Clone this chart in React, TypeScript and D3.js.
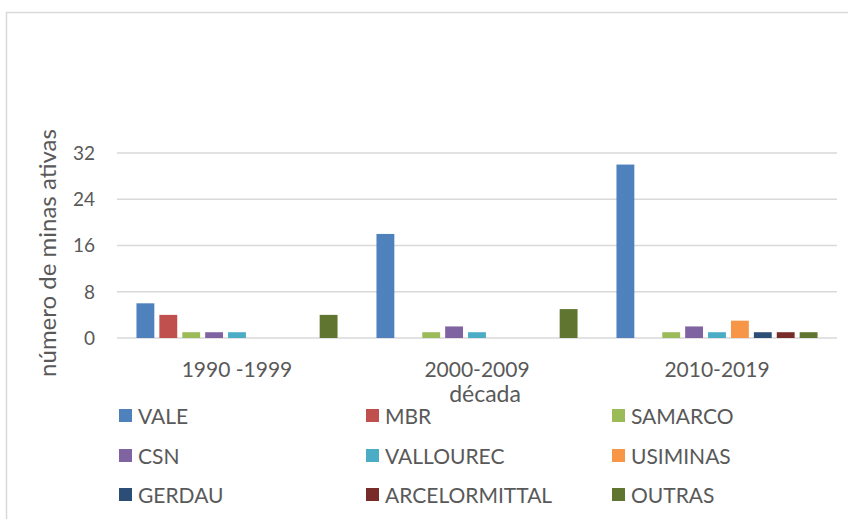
import * as d3 from 'd3';

const DECADES = ['1990 -1999', '2000-2009', '2010-2019'];
const COMPANIES = ['VALE', 'MBR', 'SAMARCO', 'CSN', 'VALLOUREC', 'USIMINAS', 'GERDAU', 'ARCELORMITTAL', 'OUTRAS'];
const COLORS = ['#4f81bd', '#c0504d', '#9bbb59', '#8064a2', '#4bacc6', '#f79646', '#2c4d75', '#772c2a', '#5f7530'];

// one array per company, values per decade
const VALE = [6, 18, 30];
const MBR = [4, 0, 0];
const SAMARCO = [1, 1, 1];
const CSN = [1, 2, 2];
const VALLOUREC = [1, 1, 1];
const USIMINAS = [0, 0, 3];
const GERDAU = [0, 0, 1];
const ARCELORMITTAL = [0, 0, 1];
const OUTRAS = [4, 5, 1];
const SERIES = [VALE, MBR, SAMARCO, CSN, VALLOUREC, USIMINAS, GERDAU, ARCELORMITTAL, OUTRAS];

const Y_TICKS = [0, 8, 16, 24, 32];

const W = 848;
const H = 519;
const FONT = 'Lato, "Open Sans", sans-serif';
const TEXT = '#595959';
const GRID = '#d9d9d9';

export default function App() {
  const x0 = d3.scaleBand<string>().domain(DECADES).range([117, 837]);
  const x1 = d3.scaleBand<string>().domain(COMPANIES).range([0, x0.bandwidth()])
    .paddingInner(0.22).paddingOuter(0.85);
  const y = d3.scaleLinear().domain([0, 32]).range([338, 153]);

  const legendCols = [119, 366, 612];
  const legendRows = [409, 449, 488];

  return (
    <div style={{ position: 'absolute', left: 0, top: 0 }}>
      <svg width={W} height={H} style={{ display: 'block', background: '#fff' }} fontFamily={FONT}>
        {/* chart area border */}
        <rect x={6.5} y={12.5} width={W + 10} height={H + 10} fill="#fff" stroke={GRID} strokeWidth={1.5} />

        {/* grid lines */}
        {Y_TICKS.map(t => (
          <line key={t} x1={117} x2={837} y1={y(t)} y2={y(t)} stroke={GRID} strokeWidth={1.5} />
        ))}

        {/* y tick labels */}
        {Y_TICKS.map(t => (
          <text key={t} x={95} y={y(t)} dy="0.36em" textAnchor="end" fontSize={19} fill={TEXT}>{t}</text>
        ))}

        {/* bars */}
        {DECADES.map((dec, di) => (
          <g key={dec} transform={`translate(${x0(dec)},0)`}>
            {COMPANIES.map((c, ci) => {
              const v = SERIES[ci][di];
              if (!v) return null;
              return (
                <rect key={c} x={x1(c)} y={y(v)} width={x1.bandwidth()} height={y(0) - y(v)} fill={COLORS[ci]} />
              );
            })}
          </g>
        ))}

        {/* category labels */}
        {DECADES.map(dec => (
          <text key={dec} x={(x0(dec) ?? 0) + x0.bandwidth() / 2} y={377} textAnchor="middle" fontSize={21} fill={TEXT}>{dec}</text>
        ))}

        {/* axis titles */}
        <text x={485} y={402} textAnchor="middle" fontSize={23} fill={TEXT}>década</text>
        <text transform="translate(56,253) rotate(-90)" textAnchor="middle" fontSize={24} fill={TEXT}>número de minas ativas</text>

        {/* legend */}
        {COMPANIES.map((c, i) => {
          const lx = legendCols[i % 3];
          const ly = legendRows[Math.floor(i / 3)];
          return (
            <g key={c}>
              <rect x={lx} y={ly} width={13} height={13} fill={COLORS[i]} />
              <text x={lx + 19} y={ly + 15} fontSize={21} fill={TEXT}>{c}</text>
            </g>
          );
        })}
      </svg>
    </div>
  );
}
